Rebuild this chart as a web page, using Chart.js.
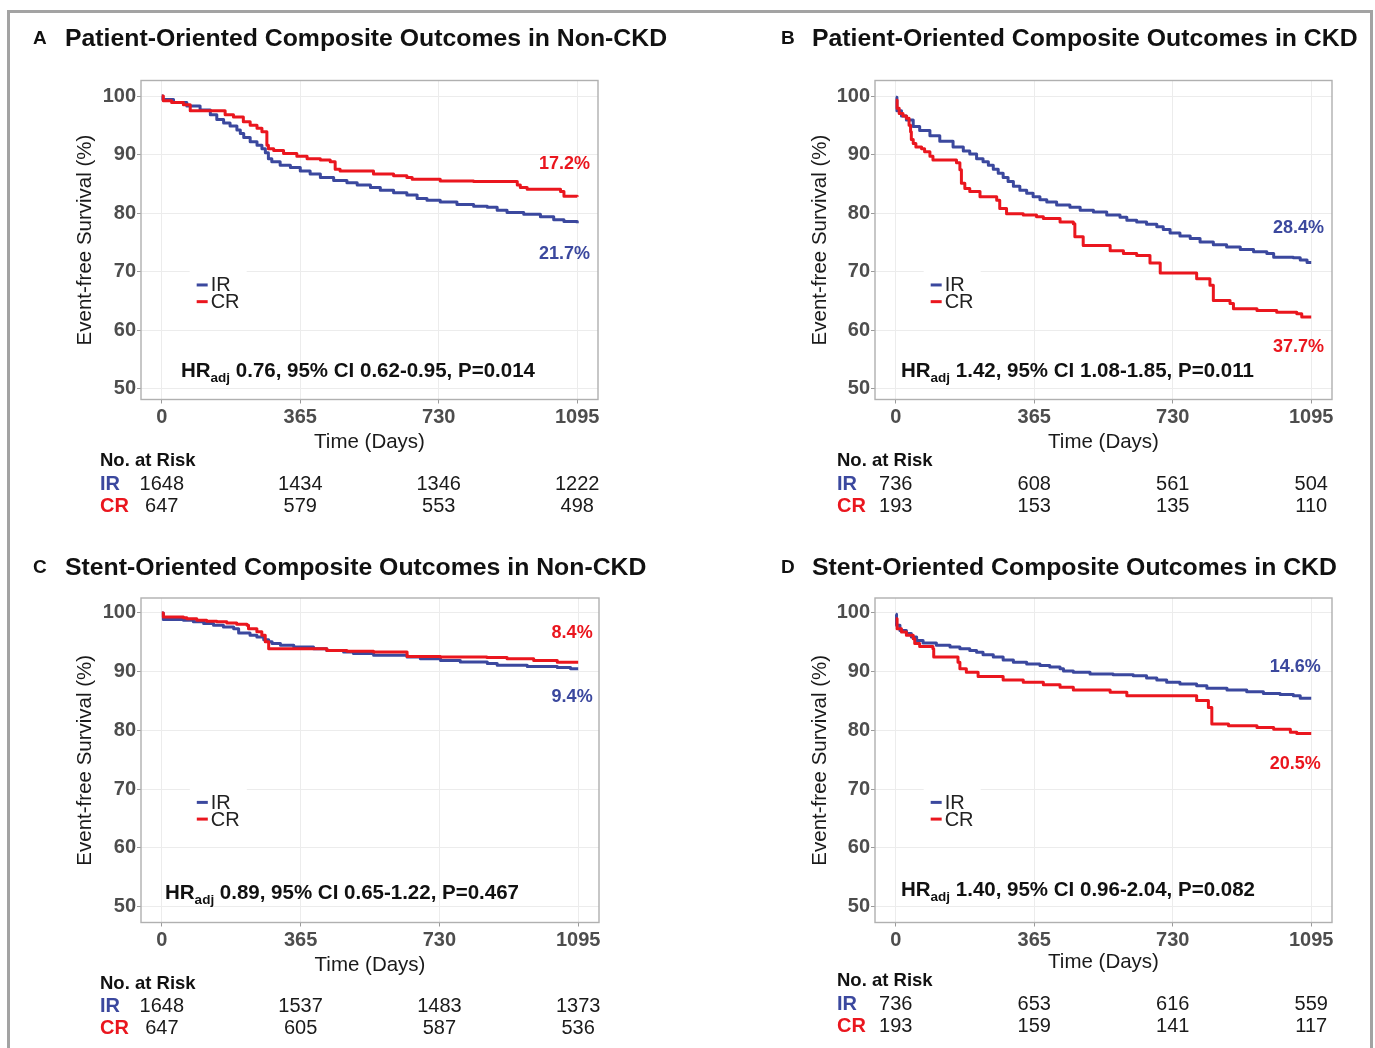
<!DOCTYPE html>
<html>
<head>
<meta charset="utf-8">
<script src="https://cdn.jsdelivr.net/npm/chart.js@4.4.1/dist/chart.umd.min.js"></script>
<style>
html,body{margin:0;padding:0;background:#fff;}
body{width:1375px;height:1048px;position:relative;overflow:hidden;font-family:"Liberation Sans",Arial,Helvetica,sans-serif;}
#frame{position:absolute;left:7px;top:10px;width:1366px;height:1100px;border:3px solid #a3a3a3;box-sizing:border-box;}
canvas{position:absolute;}
.ttl{position:absolute;font-weight:bold;color:#111;white-space:nowrap;line-height:30px;height:30px;}
.ltr{font-size:19px;}
.tt{font-size:24.8px;}
</style>
</head>
<body>
<div id="frame"></div>
<canvas id="cA"></canvas>
<canvas id="cB"></canvas>
<canvas id="cC"></canvas>
<canvas id="cD"></canvas>
<script>
// ---------------- data ----------------
const xTicks = [0, 365, 730, 1095];
const yTicks = [50, 60, 70, 80, 90, 100];
const seriesNames = ['IR', 'CR'];
const panelLetters = ['A', 'B', 'C', 'D'];
const panelTitles = [
  'Patient-Oriented Composite Outcomes in Non-CKD',
  'Patient-Oriented Composite Outcomes in CKD',
  'Stent-Oriented Composite Outcomes in Non-CKD',
  'Stent-Oriented Composite Outcomes in CKD'
];
const hrText = [
  '0.76, 95% CI 0.62-0.95, P=0.014',
  '1.42, 95% CI 1.08-1.85, P=0.011',
  '0.89, 95% CI 0.65-1.22, P=0.467',
  '1.40, 95% CI 0.96-2.04, P=0.082'
];
const pctIR = ['21.7%', '28.4%', '9.4%', '14.6%'];
const pctCR = ['17.2%', '37.7%', '8.4%', '20.5%'];

const riskA_IR = [1648, 1434, 1346, 1222];
const riskA_CR = [647, 579, 553, 498];
const riskB_IR = [736, 608, 561, 504];
const riskB_CR = [193, 153, 135, 110];
const riskC_IR = [1648, 1537, 1483, 1373];
const riskC_CR = [647, 605, 587, 536];
const riskD_IR = [736, 653, 616, 559];
const riskD_CR = [193, 159, 141, 117];

// Kaplan-Meier curves: [day, event-free survival %]
const survA_IR = [[0,100],[3,99.4],[31,98.9],[66,98.3],[101,97.6],[128,96.8],[145,96.0],[163,95.4],[180,94.9],[198,94.2],[207,93.6],[216,92.9],[233,92.2],[251,91.6],[264,91.0],[273,90.3],[281,89.3],[290,88.8],[312,88.2],[339,87.8],[365,87.2],[391,86.7],[418,86.1],[453,85.6],[488,85.2],[515,84.8],[550,84.4],[576,83.9],[611,83.5],[646,83.1],[673,82.5],[699,82.2],[734,81.9],[778,81.5],[822,81.2],[858,81.0],[884,80.5],[910,80.1],[954,79.8],[998,79.4],[1033,78.9],[1060,78.6],[1095,78.3]];
const survA_CR = [[0,100],[4,99.2],[26,98.9],[57,98.5],[75,97.5],[167,96.8],[189,96.4],[215,95.6],[233,95.0],[251,94.5],[264,93.9],[277,91.6],[281,91.0],[295,90.7],[321,90.2],[356,89.7],[383,89.3],[418,89.1],[444,88.8],[457,87.5],[470,87.2],[558,86.7],[611,86.4],[646,86.1],[660,85.8],[734,85.5],[822,85.4],[937,84.8],[945,84.4],[963,84.1],[1051,83.7],[1060,82.9],[1095,82.8]];

const survB_IR = [[0,99.8],[3,97.5],[15,96.6],[28,95.9],[46,94.8],[63,94.1],[90,93.2],[116,92.3],[151,91.3],[178,90.6],[195,90.1],[213,89.3],[230,88.8],[244,88.2],[257,87.5],[270,86.8],[283,86.1],[296,85.4],[310,84.6],[327,83.9],[345,83.4],[362,82.8],[380,82.3],[398,81.9],[424,81.4],[459,81.0],[486,80.5],[521,80.2],[556,79.7],[591,79.3],[609,78.8],[635,78.5],[661,78.1],[688,77.7],[705,77.2],[723,76.6],[749,76.1],[776,75.7],[802,75.1],[837,74.6],[872,74.25],[908,73.8],[943,73.4],[978,73.1],[996,72.5],[1048,72.4],[1066,72.0],[1084,71.6],[1095,71.6]];
const survB_CR = [[0,99.3],[3.5,97.9],[9,97.0],[19,96.6],[28,96.2],[35,95.0],[39,93.9],[41,92.6],[46,91.9],[53,91.3],[68,91.0],[76,90.5],[90,89.7],[98,89.1],[160,88.6],[169,87.4],[173,85.1],[182,84.2],[195,83.7],[222,82.8],[266,82.2],[274,80.8],[292,79.9],[336,79.7],[371,79.4],[389,79.1],[433,78.5],[468,78.2],[472,76.0],[494,74.5],[565,73.6],[600,73.1],[635,72.8],[670,71.5],[697,69.8],[793,68.8],[828,67.7],[837,65.1],[881,64.6],[890,63.7],[952,63.4],[1004,63.1],[1057,62.85],[1070,62.3],[1095,62.3]];

const survC_IR = [[0,100],[4,98.9],[57,98.75],[83,98.5],[110,98.2],[136,97.9],[162,97.6],[189,97.3],[202,96.6],[232,96.2],[250,95.9],[268,95.45],[281,95.1],[290,94.8],[312,94.5],[347,94.2],[399,93.9],[434,93.6],[478,93.35],[504,93.1],[557,92.8],[645,92.5],[680,92.2],[733,91.9],[785,91.65],[856,91.4],[882,91.1],[961,90.9],[1040,90.7],[1075,90.5],[1095,90.5]];
const survC_CR = [[0,100],[4,99.3],[57,99.2],[66,99.0],[92,98.75],[118,98.6],[145,98.5],[171,98.3],[197,98.1],[224,97.9],[228,97.3],[250,96.8],[263,96.2],[272,95.1],[281,93.9],[434,93.6],[487,93.5],[557,93.35],[645,92.6],[733,92.5],[855,92.4],[908,92.2],[978,91.9],[1040,91.6],[1095,91.6]];

const survD_IR = [[0,99.8],[2,97.9],[11,97.0],[28,96.5],[41,95.9],[55,95.3],[72,94.9],[107,94.5],[143,94.2],[169,93.9],[195,93.6],[213,93.3],[230,92.9],[257,92.5],[283,92.0],[310,91.6],[345,91.3],[380,91.05],[406,90.8],[433,90.5],[442,90.1],[468,89.9],[512,89.6],[573,89.5],[626,89.3],[661,88.95],[688,88.6],[714,88.2],[749,87.9],[793,87.6],[820,87.2],[873,86.9],[925,86.6],[969,86.3],[1013,86.1],[1048,85.9],[1066,85.5],[1095,85.5]];
const survD_CR = [[0,99.0],[3.5,97.3],[15,96.75],[28,96.2],[46,95.6],[50,94.8],[63,94.3],[98,93.9],[100,92.5],[164,91.6],[169,90.5],[186,89.9],[217,89.2],[283,88.6],[336,88.2],[389,87.8],[433,87.35],[468,86.9],[565,86.5],[609,85.9],[793,85.1],[824,83.9],[833,81.1],[877,80.8],[952,80.5],[996,80.2],[1040,79.7],[1057,79.5],[1095,79.5]];

// ---------------- styles & layout ----------------
const BLUE = '#3B489E';
const RED = '#EA161E';
const FONT = "'Liberation Sans', Arial, Helvetica, sans-serif";

const layoutCfg = [
  {id:'A', canvas:{left:0,top:50,w:688,h:480}, area:{left:141,top:80.5,right:598,bottom:399.5}, yMin:48.2, yMax:102.65,
   yTitleX:85, xTitleY:442, risk:{x:100, head:461, rows:[484,506]}, title:{letterX:33, textX:65, y:38},
   hr:{x:50.6, y:52.95}, pct:{x:1129, ir:73.03, cr:88.4}, legend:{x:92, y:67.75}},
  {id:'B', canvas:{left:688,top:50,w:687,h:480}, area:{left:875,top:80.5,right:1332,bottom:399.5}, yMin:48.2, yMax:102.65,
   yTitleX:820, xTitleY:442, risk:{x:837, head:461, rows:[484,506]}, title:{letterX:781, textX:812, y:38},
   hr:{x:13.7, y:53.07}, pct:{x:1129, ir:77.47, cr:57.16}, legend:{x:92, y:67.75}},
  {id:'C', canvas:{left:0,top:570,w:688,h:478}, area:{left:141,top:598,right:599,bottom:922.5}, yMin:47.3, yMax:102.55,
   yTitleX:85, xTitleY:965, risk:{x:100, head:984, rows:[1006,1028]}, title:{letterX:33, textX:65, y:567},
   hr:{x:8.4, y:52.3}, pct:{x:1133, ir:85.75, cr:96.65}, legend:{x:92, y:67.75}},
  {id:'D', canvas:{left:688,top:570,w:687,h:478}, area:{left:875,top:598,right:1332,bottom:922.5}, yMin:47.3, yMax:102.55,
   yTitleX:820, xTitleY:962, risk:{x:837, head:981, rows:[1004,1026]}, title:{letterX:781, textX:812, y:567},
   hr:{x:13.7, y:52.8}, pct:{x:1120, ir:90.75, cr:74.34}, legend:{x:92, y:67.75}}
];

const survIR = [survA_IR, survB_IR, survC_IR, survD_IR];
const survCR = [survA_CR, survB_CR, survC_CR, survD_CR];
const riskIR = [riskA_IR, riskB_IR, riskC_IR, riskD_IR];
const riskCR = [riskA_CR, riskB_CR, riskC_CR, riskD_CR];

// ---------------- plugin for in-panel annotations ----------------
const kmPlugin = {
  id: 'km',
  beforeDatasetsDraw(chart) {
    const o = chart.options.plugins.km;
    const ctx = chart.ctx, xs = chart.scales.x, ys = chart.scales.y;
    const lx = xs.getPixelForValue(o.legend.x), ly = ys.getPixelForValue(o.legend.y);
    ctx.save();
    ctx.fillStyle = '#ffffff';
    ctx.fillRect(lx - 7, ly - 15, 57, 44);
    ctx.restore();
  },
  afterDatasetsDraw(chart) {
    const a = chart.chartArea, ctx = chart.ctx;
    ctx.save();
    ctx.strokeStyle = '#b0b0b0';
    ctx.lineWidth = 1.4;
    ctx.strokeRect(a.left, a.top, a.right - a.left, a.bottom - a.top);
    ctx.restore();
  },
  afterDraw(chart) {
    const o = chart.options.plugins.km;
    const ctx = chart.ctx, xs = chart.scales.x, ys = chart.scales.y;
    const cl = o.canvas.left, ct = o.canvas.top;
    ctx.save();
    ctx.textBaseline = 'middle';
    // legend
    const lx = xs.getPixelForValue(o.legend.x), ly = ys.getPixelForValue(o.legend.y);
    const legendColors = [BLUE, RED];
    seriesNames.forEach((n, k) => {
      const y = ly + k * 16.7;
      ctx.strokeStyle = legendColors[k];
      ctx.lineWidth = 3;
      ctx.beginPath(); ctx.moveTo(lx, y); ctx.lineTo(lx + 11, y); ctx.stroke();
      ctx.fillStyle = '#222';
      ctx.font = '20px ' + FONT;
      ctx.textAlign = 'left';
      ctx.fillText(n, lx + 14, y + 1);
    });
    // percentages
    ctx.font = 'bold 18px ' + FONT;
    ctx.textAlign = 'right';
    ctx.fillStyle = BLUE;
    ctx.fillText(o.pctIR, xs.getPixelForValue(o.pct.x), ys.getPixelForValue(o.pct.ir));
    ctx.fillStyle = RED;
    ctx.fillText(o.pctCR, xs.getPixelForValue(o.pct.x), ys.getPixelForValue(o.pct.cr));
    // HR annotation
    ctx.textAlign = 'left';
    ctx.fillStyle = '#111';
    let hx = xs.getPixelForValue(o.hr.x);
    const hy = ys.getPixelForValue(o.hr.y);
    ctx.font = 'bold 20.5px ' + FONT;
    ctx.fillText('HR', hx, hy);
    hx += ctx.measureText('HR').width;
    ctx.font = 'bold 13.5px ' + FONT;
    ctx.fillText('adj', hx, hy + 7);
    hx += ctx.measureText('adj').width;
    ctx.font = 'bold 20.5px ' + FONT;
    ctx.fillText(' ' + o.hrText, hx, hy);
    // number at risk table
    ctx.font = 'bold 18.5px ' + FONT;
    ctx.fillStyle = '#111';
    ctx.fillText('No. at Risk', o.risk.x - cl, o.risk.head - ct);
    const rows = [[seriesNames[0], BLUE, o.riskIR], [seriesNames[1], RED, o.riskCR]];
    rows.forEach(([name, col, vals], r) => {
      const y = o.risk.rows[r] - ct;
      ctx.textAlign = 'left';
      ctx.font = 'bold 20px ' + FONT;
      ctx.fillStyle = col;
      ctx.fillText(name, o.risk.x - cl, y);
      ctx.font = '20px ' + FONT;
      ctx.fillStyle = '#1a1a1a';
      ctx.textAlign = 'center';
      vals.forEach((v, k) => ctx.fillText(String(v), xs.getPixelForValue(xTicks[k]), y));
    });
    ctx.restore();
  }
};

// ---------------- build ----------------
function addTitle(p, i) {
  const l = document.createElement('div');
  l.className = 'ttl ltr';
  l.style.left = p.title.letterX + 'px';
  l.style.top = (p.title.y - 15) + 'px';
  l.textContent = panelLetters[i];
  document.body.appendChild(l);
  const t = document.createElement('div');
  t.className = 'ttl tt';
  t.style.left = p.title.textX + 'px';
  t.style.top = (p.title.y - 15) + 'px';
  t.textContent = panelTitles[i];
  document.body.appendChild(t);
}

function makeChart(p, i) {
  const cv = document.getElementById('c' + p.id);
  cv.width = p.canvas.w; cv.height = p.canvas.h;
  cv.style.left = p.canvas.left + 'px';
  cv.style.top = p.canvas.top + 'px';
  const yW = p.area.left - p.canvas.left;
  const T = p.area.top - p.canvas.top;
  const R = p.canvas.w - (p.area.right - p.canvas.left);
  const xH = p.canvas.top + p.canvas.h - p.area.bottom;
  const titleLH = 20.5 * 1.2;
  const yTitlePad = (p.yTitleX - p.canvas.left) - titleLH / 2;
  const xTitlePad = (p.canvas.top + p.canvas.h - p.xTitleY) - titleLH / 2;
  const tickFont = {family: FONT, size: 20, weight: 'bold'};
  const gridCfg = {color: '#ececec', lineWidth: 1, drawTicks: true, tickLength: 4, tickColor: '#9a9a9a', tickWidth: 1};
  const mk = (arr) => arr.map(([x, y]) => ({x, y}));
  new Chart(cv, {
    type: 'scatter',
    data: {datasets: [
      {label: seriesNames[1], data: mk(survCR[i]), borderColor: RED, backgroundColor: RED, order: 0},
      {label: seriesNames[0], data: mk(survIR[i]), borderColor: BLUE, backgroundColor: BLUE, order: 1}
    ].map(d => Object.assign(d, {showLine: true, stepped: true, pointRadius: 0, pointHoverRadius: 0, borderWidth: 3, fill: false, borderCapStyle: 'butt', borderJoinStyle: 'round'}))},
    options: {
      responsive: false, animation: false, devicePixelRatio: 1,
      events: [],
      layout: {padding: {left: 0, top: T, right: R, bottom: 0}},
      plugins: {
        legend: {display: false}, tooltip: {enabled: false},
        km: {canvas: p.canvas, legend: p.legend, pct: p.pct, pctIR: pctIR[i], pctCR: pctCR[i], hr: p.hr, hrText: hrText[i],
             risk: p.risk, riskIR: riskIR[i], riskCR: riskCR[i]}
      },
      scales: {
        x: {
          type: 'linear', min: -54.75, max: 1149.75,
          afterBuildTicks: s => { s.ticks = xTicks.map(v => ({value: v})); },
          afterFit: s => { s.height = xH; },
          grid: gridCfg, border: {display: false},
          ticks: {font: tickFont, color: '#4d4d4d', padding: 2, maxRotation: 0, autoSkip: false, callback: v => String(v)},
          title: {display: true, text: 'Time (Days)', color: '#1a1a1a', font: {family: FONT, size: 20.5}, padding: {top: 0, bottom: xTitlePad}}
        },
        y: {
          type: 'linear', min: p.yMin, max: p.yMax,
          afterBuildTicks: s => { s.ticks = yTicks.map(v => ({value: v})); },
          afterFit: s => { s.width = yW; },
          grid: gridCfg, border: {display: false},
          ticks: {font: tickFont, color: '#4d4d4d', padding: 1, autoSkip: false, callback: v => String(v)},
          title: {display: true, text: 'Event-free Survival (%)', color: '#1a1a1a', font: {family: FONT, size: 20.5}, padding: {top: yTitlePad, bottom: 0}}
        }
      }
    },
    plugins: [kmPlugin]
  });
}

layoutCfg.forEach((p, i) => { addTitle(p, i); makeChart(p, i); });
</script>
</body>
</html>
